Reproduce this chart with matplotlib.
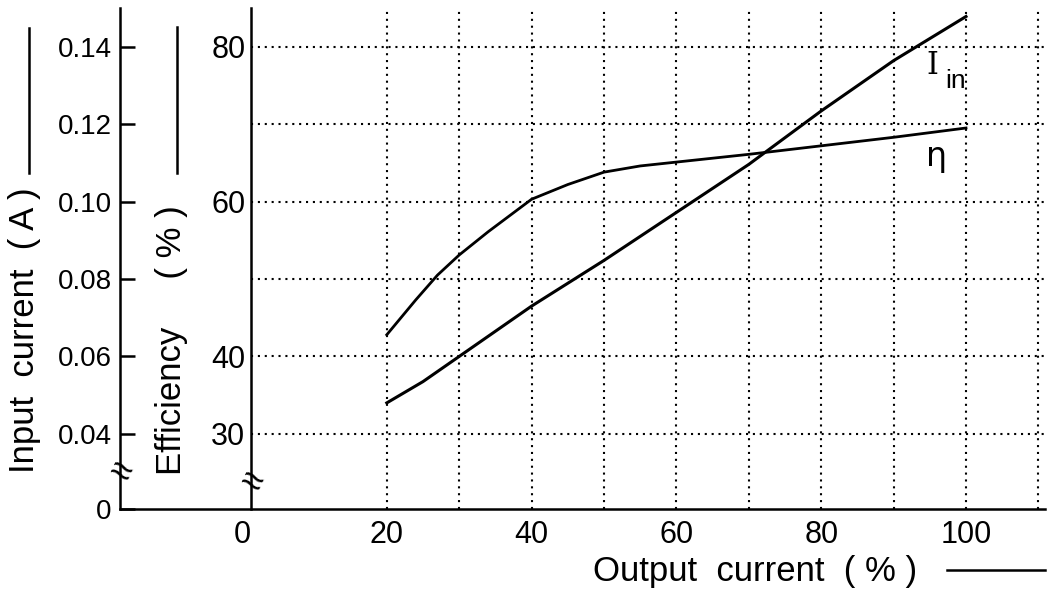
"""Input current and efficiency vs output current (hand-drawn style, two left axes)."""
import matplotlib
matplotlib.use("Agg")
import matplotlib.pyplot as plt
from matplotlib.lines import Line2D
from matplotlib import transforms

plt.rcParams["font.family"] = ["Liberation Sans", "DejaVu Sans"]

# ── data ───────────────────────────────────────────────────────────
out_x_ticks = [0, 20, 40, 60, 80, 100]
grid_x = [20, 30, 40, 50, 60, 70, 80, 90, 100, 110]
eff_ticks = [30, 40, 60, 80]
eff_grid = [30, 40, 50, 60, 70, 80]
cur_ticks = [0.04, 0.06, 0.08, 0.10, 0.12, 0.14]
cur_labels = ["0.04", "0.06", "0.08", "0.10", "0.12", "0.14"]

eta_x = [20, 24, 27, 30, 34, 40, 45, 50, 55, 60, 70, 80, 90, 100]
eta_y = [42.8, 47.3, 50.5, 53.1, 56.1, 60.3, 62.2, 63.8, 64.6, 65.1, 66.1, 67.2, 68.3, 69.5]

iin_x = [20, 25, 30, 40, 50, 60, 70, 80, 90, 100]
iin_y = [0.048, 0.0535, 0.060, 0.073, 0.0848, 0.0972, 0.1096, 0.1234, 0.1364, 0.1478]

# limits: efficiency 30..80 lines up with current 0.04..0.14
EFF_LO, EFF_HI = 20.3, 85.0
CUR_LO = 0.04 + (EFF_LO - 30) * 0.002
CUR_HI = 0.04 + (EFF_HI - 30) * 0.002
EFF_SPINE = 0.1416  # axes fraction where the efficiency axis is drawn

fig = plt.figure(figsize=(10.47, 5.96), dpi=100)
ax = fig.add_axes([0.1146, 0.146, 0.8834, 0.8406])
ax.set_xlim(-16.85, 110.9)
ax.set_ylim(EFF_LO, EFF_HI)

# dotted grid
for gx in grid_x:
    ax.axvline(gx, color="black", lw=1.5, ls=(0, (1, 2.3)), zorder=1)
for gy in eff_grid:
    ax.axhline(gy, xmin=EFF_SPINE, xmax=1, color="black", lw=1.5, ls=(0, (1, 2.3)), zorder=1)

# efficiency axis
for s in ["top", "right"]:
    ax.spines[s].set_visible(False)
ax.spines["left"].set_position(("axes", EFF_SPINE))
ax.spines["left"].set_linewidth(1.8)
ax.spines["bottom"].set_linewidth(1.8)
ax.set_yticks(eff_ticks)
ax.set_yticklabels([str(v) for v in eff_ticks])
ax.tick_params(axis="y", length=0, pad=4, labelsize=22)
ax.set_xticks(out_x_ticks)
ax.set_xticklabels([str(v) for v in out_x_ticks])
ax.tick_params(axis="x", length=0, pad=8, labelsize=22)

ax.plot(eta_x, eta_y, color="black", lw=2.0, zorder=3)

# input current axis (twin, moved to the left edge)
ax2 = ax.twinx()
ax2.set_ylim(CUR_LO, CUR_HI)
for s in ["top", "right", "bottom"]:
    ax2.spines[s].set_visible(False)
ax2.spines["left"].set_visible(True)
ax2.spines["left"].set_linewidth(1.8)
ax2.yaxis.set_ticks_position("left")
ax2.set_yticks([CUR_LO] + cur_ticks)
ax2.set_yticklabels(["0"] + cur_labels)
ax2.tick_params(axis="y", direction="in", length=11, width=1.8, pad=6, labelsize=20)

ax2.plot(iin_x, iin_y, color="black", lw=2.2, zorder=3)

# axis breaks
tr = transforms.blended_transform_factory(ax.transAxes, ax.transData)
ax.text(0, 24.9, "≈", transform=tr, ha="center", va="center", fontsize=28, rotation=-25)
ax.text(EFF_SPINE, 23.6, "≈", transform=tr, ha="center", va="center", fontsize=28, rotation=-25)

# curve labels
ax.text(95.4, 77.6, "I", family="DejaVu Serif", fontsize=22, ha="center", va="center")
ax.text(98.6, 75.6, "in", fontsize=19, ha="center", va="center")
ax.text(95.9, 65.8, "η", family="DejaVu Sans", fontsize=24, ha="center", va="center")

# axis titles with leader lines
W, H = 1047, 596
fig.text(25 / W, 1 - 473 / H, "Input  current  ( A )", rotation=90, ha="center", va="bottom", fontsize=25)
fig.add_artist(Line2D([29 / W, 29 / W], [1 - 173 / H, 1 - 28 / H], color="black", lw=1.8))
fig.text(172 / W, 1 - 475 / H, "Efficiency     ( % )", rotation=90, ha="center", va="bottom", fontsize=25)
fig.add_artist(Line2D([177 / W, 177 / W], [1 - 173 / H, 1 - 27 / H], color="black", lw=1.8))
fig.text(593 / W, 1 - 572 / H, "Output  current  ( % )", ha="left", va="center", fontsize=25)
fig.add_artist(Line2D([947 / W, 1045 / W], [1 - 570 / H, 1 - 570 / H], color="black", lw=1.8))

fig.savefig("out.png", dpi=100)
